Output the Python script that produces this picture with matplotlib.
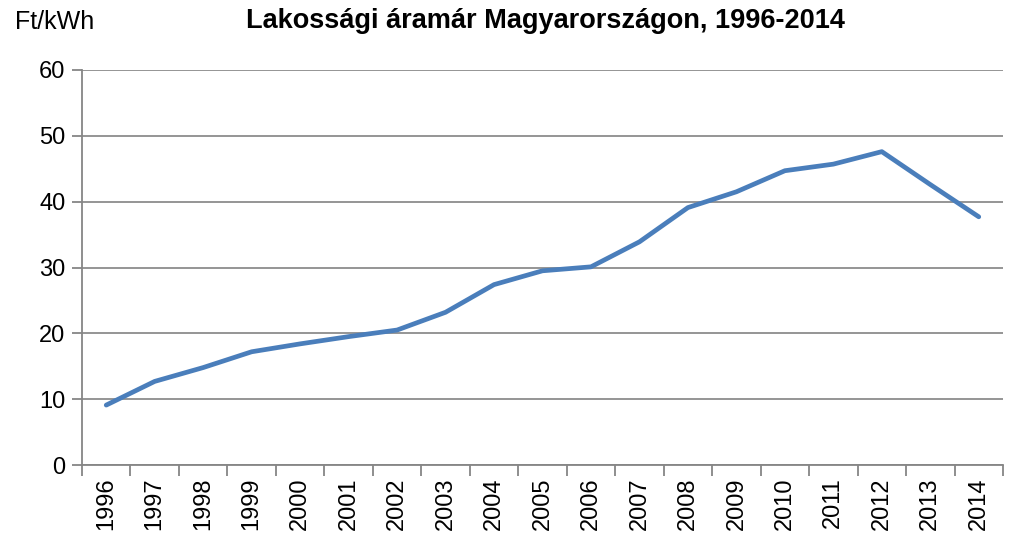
import matplotlib
matplotlib.use("Agg")
import matplotlib.pyplot as plt
import numpy as np

years = [str(y) for y in range(1996, 2015)]
prices = [9.1, 12.7, 14.8, 17.2, 18.4, 19.5, 20.5, 23.2, 27.4, 29.5, 30.1,
          33.9, 39.1, 41.5, 44.7, 45.7, 47.6, 42.6, 37.7]
yticks = [0, 10, 20, 30, 40, 50, 60]

plt.rcParams['font.family'] = ['Liberation Sans', 'DejaVu Sans']

fig = plt.figure(figsize=(10.25, 5.4), dpi=100)
ax = fig.add_axes([82/1025, 1-465/540, (1003-82)/1025, (465-70)/540])

x = np.arange(len(years))
ax.plot(x, prices, color='#4a7ebb', linewidth=3.4, solid_joinstyle='round', solid_capstyle='round', zorder=3)

ax.set_xlim(-0.5, len(years) - 0.5)
ax.set_ylim(0, 60)
ax.set_yticks(yticks)
ax.set_yticklabels([str(v) for v in yticks], fontsize=17)
ax.yaxis.grid(True, color='#8c8c8c', linewidth=1.3)
ax.set_axisbelow(True)

ax.set_xticks(np.arange(len(years) + 1) - 0.5)
ax.set_xticklabels([])
ax.set_xticks(x, minor=True)
ax.set_xticklabels(years, minor=True, rotation=90, fontsize=17)
ax.tick_params(axis='x', which='major', length=8, width=1.3, color='#868686', direction='out')
ax.tick_params(axis='x', which='minor', length=0, pad=9)
ax.tick_params(axis='y', length=7, width=1.3, color='#868686', pad=5)

for s in ['top', 'right']:
    ax.spines[s].set_visible(False)
for s in ['left', 'bottom']:
    ax.spines[s].set_color('#868686')
    ax.spines[s].set_linewidth(1.3)

fig.text(15/1025, 1-22/540, 'Ft/kWh', fontsize=18, va='center', ha='left')
fig.text(545/1025, 1-21/540, 'Lakossági áramár Magyarországon, 1996-2014',
         fontsize=19.5, fontweight='bold', va='center', ha='center')

fig.savefig('out.png', dpi=100)
